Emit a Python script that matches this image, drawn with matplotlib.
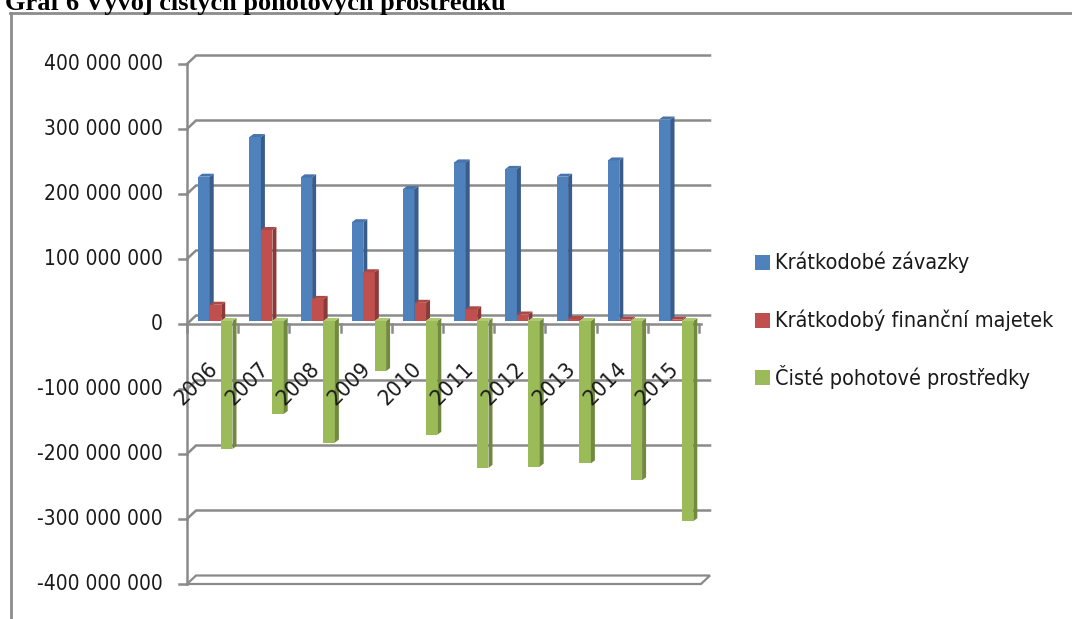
import matplotlib
matplotlib.use("Agg")
import matplotlib.pyplot as plt
from matplotlib.patches import Polygon
from matplotlib.lines import Line2D

# data (values in millions of CZK)
years = ["2006", "2007", "2008", "2009", "2010", "2011", "2012", "2013", "2014", "2015"]
zavazky = [222, 283, 221, 152, 203, 244, 234, 222, 247, 310]
majetek = [25, 140, 34, 75, 28, 18, 10, 3, 2, 2]
pohotove = [-197, -143, -187, -77, -175, -226, -224, -219, -245, -308]
series_names = ["Krátkodobé závazky", "Krátkodobý finanční majetek", "Čisté pohotové prostředky"]
y_ticks = [-400, -300, -200, -100, 0, 100, 200, 300, 400]

title = "Graf 6 Vývoj čistých pohotových prostředků"

# face colours: front, side, top
colors = [
    ("#4F81BD", "#385D8A", "#4774AB"),
    ("#C0504D", "#8C3A38", "#AE4845"),
    ("#9BBB59", "#718A3F", "#AFCB72"),
]
bar_offsets = [0.16, 0.385, 0.605]
bar_w = 0.225

W, H = 1072, 619
PX_X = 51.2   # pixels per category
PX_Y = 0.65   # pixels per million
X0, Y0 = 190, 321  # pixel position of category 0 / value 0

font = dict(family=["DejaVu Sans"], stretch="condensed", color="#1a1a1a")
grid_c = "#8A8A8A"

fig = plt.figure(figsize=(W / 100, H / 100), dpi=100)
ax = fig.add_axes([0, 0, 1, 1])
ax.set_xlim(-X0 / PX_X, (W - X0) / PX_X)
ax.set_ylim((Y0 - H) / PX_Y, Y0 / PX_Y)
ax.axis("off")


def dx(px):
    return px / PX_X


def dy(px):
    return px / PX_Y


# 3D planes: back wall and front edge shifted from the bar plane
bx, by = dx(6), dy(5.5)
fx, fy = dx(-3), dy(-3)
x_end = dx(514)

# back wall gridlines with diagonal to the front axis and tick marks
for v in y_ticks:
    if v == -400:
        floor = Polygon([(fx, v + fy), (bx, v + by), (x_end + bx, v + by), (x_end + fx, v + fy)],
                        closed=True, facecolor="white", edgecolor=grid_c, lw=1.6, zorder=1)
        ax.add_patch(floor)
    else:
        ax.plot([fx, bx, x_end + bx], [v + fy, v + by, v + by], color=grid_c, lw=1.8,
                zorder=1, solid_joinstyle="miter")
    ax.plot([fx - dx(8), fx], [v + fy, v + fy], color=grid_c, lw=1.8, zorder=1)
    label = f"{v * 1_000_000:,}".replace(",", " ")
    ax.text(fx - dx(24), v + fy, label, ha="right", va="center", fontsize=15, **font)

# vertical axis line
ax.plot([fx, fx], [y_ticks[0] + fy, y_ticks[-1] + fy], color=grid_c, lw=1.8, zorder=1)

# front edge of the zero floor with category ticks
ax.plot([fx, x_end + fx], [fy, fy], color=grid_c, lw=1.8, zorder=1)
for i in range(len(years) + 1):
    ax.plot([i + fx, i + fx], [fy, fy - dy(8)], color=grid_c, lw=1.8, zorder=1)

# bars with side and top faces
ddx, ddy = dx(4), dy(3)
z = 2
for i in range(len(years)):
    for s, vals in enumerate([zavazky, majetek, pohotove]):
        v = vals[i]
        front, side, top = colors[s]
        x0 = i + bar_offsets[s]
        x1 = x0 + bar_w
        ax.bar(x0, v, width=bar_w, align="edge", color=front, lw=0, zorder=z)
        ax.add_patch(Polygon([(x1, 0), (x1 + ddx, ddy), (x1 + ddx, v + ddy), (x1, v)],
                             closed=True, facecolor=side, lw=0, zorder=z))
        t = max(v, 0)
        ax.add_patch(Polygon([(x0, t), (x0 + ddx, t + ddy), (x1 + ddx, t + ddy), (x1, t)],
                             closed=True, facecolor=top, lw=0, zorder=z))
        z += 1

# category labels
for i, yr in enumerate(years):
    ax.text(i + dx(6), dy(-63), yr, rotation=45, ha="center", va="center",
            rotation_mode="anchor", fontsize=16, zorder=100, **font)

# legend
for k, name in enumerate(series_names):
    yk = [dy(Y0 - 262), dy(Y0 - 320), dy(Y0 - 377)][k]
    ax.add_patch(Polygon([(dx(565), yk - dy(7.5)), (dx(580), yk - dy(7.5)),
                          (dx(580), yk + dy(7.5)), (dx(565), yk + dy(7.5))],
                         closed=True, facecolor=colors[k][0], lw=0))
    ax.text(dx(585), yk, name, ha="left", va="center", fontsize=15.5, **font)

# chart frame and title
fig.add_artist(Line2D([10 / W, 1], [1 - 13 / H, 1 - 13 / H], color="#8C8C8C", lw=2))
fig.add_artist(Line2D([11 / W, 11 / W], [0, 1 - 13 / H], color="#8C8C8C", lw=2))
fig.text(5 / W, 1 - 10 / H, title, ha="left", va="baseline", fontsize=19,
         family=["Liberation Serif", "DejaVu Serif"], fontweight="bold")

fig.savefig("out.png", dpi=100)
